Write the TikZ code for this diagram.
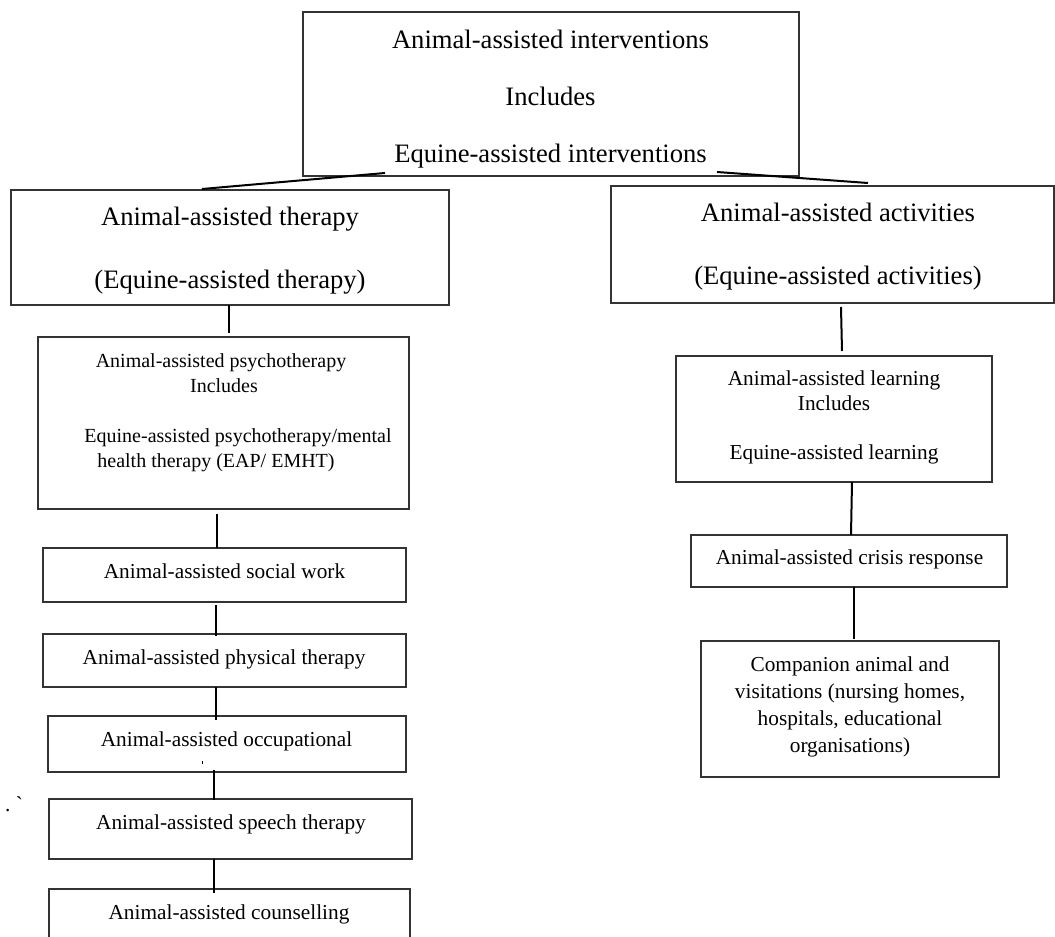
\documentclass[tikz,border=0pt]{standalone}
\usepackage{fontspec}
\setmainfont{Liberation Serif}
\begin{document}
\begin{tikzpicture}[x=1pt,y=-1pt,
 box/.style={draw=black!80,line width=1.4pt,rectangle,inner sep=0pt,outer sep=0pt},
 link/.style={draw=black,line width=2pt},
 big/.style={font=\fontsize{26.6}{30}\selectfont,anchor=base,inner sep=0pt},
 small/.style={font=\fontsize{21.3}{25}\selectfont,anchor=base,inner sep=0pt},
 psyf/.style={font=\fontsize{20}{24}\selectfont,anchor=base,inner sep=0pt}]
\useasboundingbox (0,0) rectangle (1055,937);
% boxes
\node[box,minimum width=496pt,minimum height=164pt] (top) at (551,94) {};
\node[box,minimum width=438pt,minimum height=115pt] (ther) at (230,247.5) {};
\node[box,minimum width=443pt,minimum height=117pt] (act) at (832.5,244.5) {};
\node[box,minimum width=371pt,minimum height=172pt] (psy) at (223.5,423) {};
\node[box,minimum width=363pt,minimum height=54pt] (soc) at (224.5,575) {};
\node[box,minimum width=363pt,minimum height=53pt] (phys) at (224.5,660.5) {};
\node[box,minimum width=358pt,minimum height=56pt] (occ) at (227,744) {};
\node[box,minimum width=363pt,minimum height=60pt] (speech) at (230.5,829) {};
\node[box,minimum width=361pt,minimum height=71pt] (couns) at (229.5,924.5) {};
\node[box,minimum width=316pt,minimum height=126pt] (learn) at (834,419) {};
\node[box,minimum width=316pt,minimum height=52pt] (crisis) at (849,561) {};
\node[box,minimum width=298pt,minimum height=136pt] (comp) at (850,709) {};
% connectors
\draw[link] ([xshift=-166pt,yshift=3pt]top.south) -- ([xshift=-28pt,yshift=1pt]ther.north);
\draw[link] ([xshift=166pt,yshift=4pt]top.south) -- ([xshift=35.5pt,yshift=3pt]act.north);
\draw[link] ([xshift=-1pt]ther.south) -- ([xshift=5.5pt,yshift=4pt]psy.north);
\draw[link] ([xshift=-6.5pt,yshift=-5pt]psy.south) -- ([xshift=-7.5pt]soc.north);
\draw[link] ([xshift=-8.5pt,yshift=-3pt]soc.south) -- ([xshift=-8.5pt,yshift=-2pt]phys.north);
\draw[link] ([xshift=-8.5pt]phys.south) -- ([xshift=-11pt,yshift=-4pt]occ.north);
\draw[link] ([xshift=-13pt,yshift=2pt]occ.south) -- ([xshift=-16.5pt,yshift=-1pt]speech.north);
\draw[link] ([xshift=-16.5pt]speech.south) -- ([xshift=-15.5pt,yshift=-4pt]couns.north);
\draw[link] ([xshift=8.5pt,yshift=-4pt]act.south) -- ([xshift=8pt,yshift=5pt]learn.north);
\draw[link] ([xshift=18pt]learn.south) -- ([xshift=2pt]crisis.north);
\draw[link] ([xshift=5pt]crisis.south) -- ([xshift=4pt,yshift=2pt]comp.north);
% texts
\node[big] (top1) at (550.5,48) {Animal-assisted interventions};
\node[big] (top2) at (550.5,105) {Includes};
\node[big] (top3) at (550.5,162) {Equine-assisted interventions};
\node[big] (ther1) at (230,225) {Animal-assisted therapy};
\node[big] (ther2) at (230,288) {(Equine-assisted therapy)};
\node[big] (act1) at (838,221) {Animal-assisted activities};
\node[big] (act2) at (838,284) {(Equine-assisted activities)};
\node[psyf] (psy1) at (221,367) {Animal-assisted psychotherapy};
\node[psyf] (psy2) at (224,392) {Includes};
\node[psyf] (psy3) at (238,442) {Equine-assisted psychotherapy/mental};
\node[psyf] (psy4) at (216,467) {health therapy (EAP/ EMHT)};
\node[small] (soc1) at (224.5,578.5) {Animal-assisted social work};
\node[small] (phys1) at (224,664.5) {Animal-assisted physical therapy};
\node[small] (occ1) at (226.5,746.5) {Animal-assisted occupational};
\node[small] (speech1) at (231,829.5) {Animal-assisted speech therapy};
\node[small] (couns1) at (229,919.5) {Animal-assisted counselling};
\node[small] (learn1) at (834,385.5) {Animal-assisted learning};
\node[small] (learn2) at (834,410.5) {Includes};
\node[small] (learn3) at (834,459.5) {Equine-assisted learning};
\node[small] (crisis1) at (849.5,564.5) {Animal-assisted crisis response};
\node[small] (comp1) at (850,671.5) {Companion animal and};
\node[small] (comp2) at (850,698.5) {visitations (nursing homes,};
\node[small] (comp3) at (850,725.5) {hospitals, educational};
\node[small] (comp4) at (850,752.5) {organisations)};
\node[small,anchor=base west] (stray) at (5,811) {.\ \textasciigrave};
\fill (201.5,761) rectangle (203,764);
\end{tikzpicture}
\end{document}
